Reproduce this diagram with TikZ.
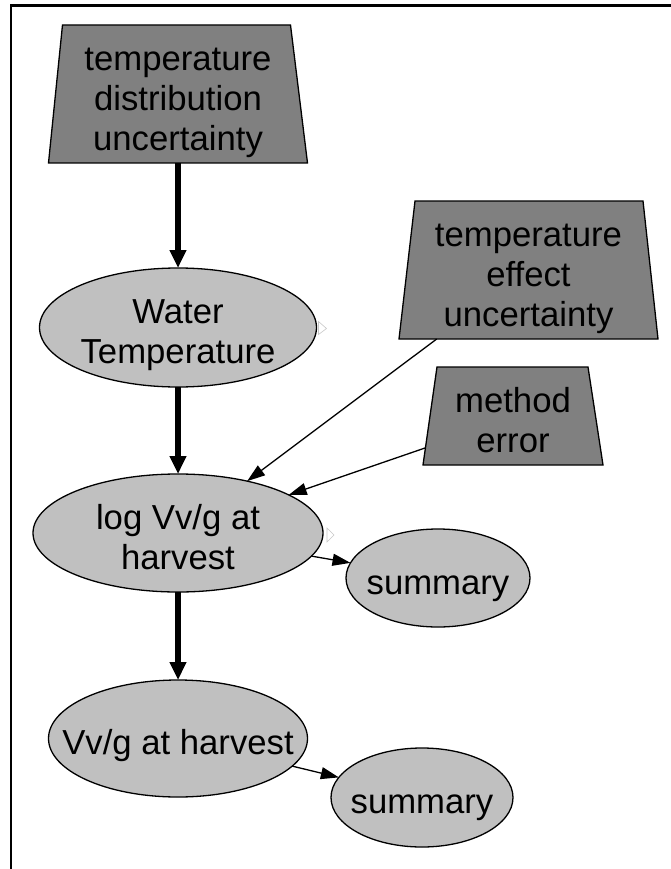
\documentclass[tikz,border=0pt]{standalone}
\usepackage{fontspec}
\setmainfont{Liberation Sans}
\usetikzlibrary{shapes.geometric,arrows.meta,backgrounds}
\definecolor{trapgray}{HTML}{808080}
\definecolor{ellgray}{HTML}{C0C0C0}
\newcommand\gvtext[1]{\raisebox{-14.5pt}[0pt][0pt]{\begin{tabular}{@{}c@{}}#1\end{tabular}}}
\begin{document}
\begin{tikzpicture}[x=1pt,y=-1pt,
  lbl/.style={font=\fontsize{34.7pt}{40pt}\selectfont},
  trapbox/.style={lbl, rectangle, inner sep=0pt, outer sep=0pt},
  trapshape/.style={draw=black, line width=1.3pt, fill=trapgray, line join=miter},
  ell/.style={lbl, ellipse, draw=black, line width=1.3pt, fill=ellgray,
    inner xsep=-150pt, inner ysep=0pt, outer sep=0pt},
  bigarrow/.style={line width=6.5pt, -{Triangle[length=18pt,width=16pt]}},
  thinarrow/.style={line width=1.3pt, -{Triangle[length=18pt,width=12pt]}},
  ghost/.style={draw=black!22, line width=0.6pt}
]
\useasboundingbox (0,0) rectangle (671,869);
% frame
\draw[line width=2.5pt] (11,869) -- (11,5.5) -- (671,5.5);

% nodes
\node[trapbox, minimum width=259pt, minimum height=138pt]
      (tdu) at (178,94) {\gvtext{temperature\\distribution\\uncertainty}};
\node[ell, minimum width=277pt, minimum height=119pt] (wt) at (178,327.5) {\gvtext{Water\\Temperature}};
\node[ell, minimum width=290pt, minimum height=118pt] (lv) at (178,533) {\gvtext{log Vv/g at\\harvest}};
\node[ell, minimum width=259pt, minimum height=117pt] (vv) at (178,738.5) {\gvtext{Vv/g at harvest}};
\node[ell, minimum width=184pt, minimum height=98pt] (s1) at (438,578) {\gvtext{summary}};
\node[ell, minimum width=182pt, minimum height=99pt] (s2) at (422,797.5) {\gvtext{summary}};
\node[trapbox, minimum width=259pt, minimum height=138pt]
      (teu) at (528.5,270) {\gvtext{temperature\\effect\\uncertainty}};
\node[trapbox, minimum width=180pt, minimum height=98pt]
      (me) at (513,416) {\gvtext{method\\error}};

% trapezium outlines behind the text
\begin{scope}[on background layer]
\path[trapshape] ([xshift=14pt]tdu.north west) -- ([xshift=-17pt]tdu.north east)
  -- (tdu.south east) -- (tdu.south west) -- cycle;
\path[trapshape] ([xshift=16pt]teu.north west) -- ([xshift=-15pt]teu.north east)
  -- (teu.south east) -- (teu.south west) -- cycle;
\path[trapshape] ([xshift=14pt]me.north west) -- ([xshift=-15pt]me.north east)
  -- (me.south east) -- (me.south west) -- cycle;
\end{scope}

% connectors
\draw[bigarrow] (tdu) -- (wt);
\draw[bigarrow] (wt) -- (lv);
\draw[bigarrow] (lv) -- (vv);
\draw[thinarrow] (teu) -- (lv);
\draw[thinarrow] ([xshift=2pt]me.west |- 0,448) -- (lv);
\draw[thinarrow] (lv) -- (s1);
\draw[thinarrow] (vv) -- (s2);

% faint port marks
\draw[ghost, shift={(wt.east)}] (2,-6) -- (10,1) -- (2,7) -- cycle;
\draw[ghost, shift={(lv.east)}] (4,-5) -- (11,2) -- (4,9) -- cycle;
\end{tikzpicture}
\end{document}
